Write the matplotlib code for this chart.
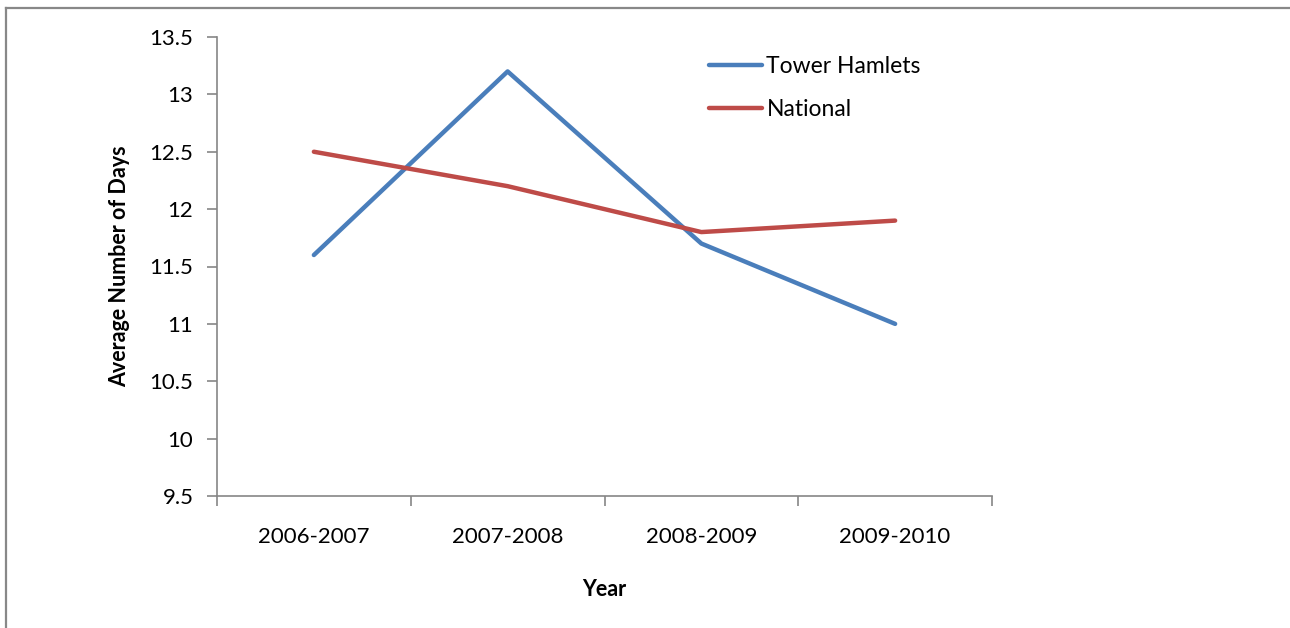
import matplotlib
matplotlib.use('Agg')
import matplotlib.pyplot as plt
from matplotlib.lines import Line2D

years = ['2006-2007', '2007-2008', '2008-2009', '2009-2010']
tower_hamlets = [11.6, 13.2, 11.7, 11.0]
national = [12.5, 12.2, 11.8, 11.9]
y_ticks = [9.5, 10, 10.5, 11, 11.5, 12, 12.5, 13, 13.5]

plt.rcParams['font.family'] = ['Lato', 'DejaVu Sans']

fig = plt.figure(figsize=(12.9, 6.28), dpi=100)
ax = fig.add_axes([217 / 1290, 1 - 496 / 628, (992 - 217) / 1290, (496 - 37) / 628])

x = range(len(years))
ax.plot(x, tower_hamlets, color='#4A7EBB', lw=3.2, label='Tower Hamlets', solid_capstyle='round')
ax.plot(x, national, color='#BE4B48', lw=3.2, label='National', solid_capstyle='round')

ax.set_xlim(-0.5, len(years) - 0.5)
ax.set_ylim(9.5, 13.5)
ax.set_yticks(y_ticks)
ax.set_yticklabels([('%g' % v) for v in y_ticks], fontsize=16)
ax.set_xticks(list(x))
ax.set_xticklabels(years, fontsize=16)
ax.tick_params(axis='x', which='major', length=0, pad=22)
ax.set_xticks([i - 0.5 for i in range(len(years) + 1)], minor=True)
ax.tick_params(axis='x', which='minor', length=7, color='#868686', width=1.2)
ax.tick_params(axis='y', length=7, color='#868686', width=1.2, pad=10)

for side in ['top', 'right']:
    ax.spines[side].set_visible(False)
for side in ['left', 'bottom']:
    ax.spines[side].set_color('#868686')
    ax.spines[side].set_linewidth(1.2)

ax.set_ylabel('Average Number of Days', fontsize=15.5, fontweight='bold', labelpad=14)
ax.set_xlabel('Year', fontsize=15.5, fontweight='bold', labelpad=23)

ax.legend(loc='upper left', bbox_to_anchor=(700 / 1290, 1 - 47 / 628), bbox_transform=fig.transFigure,
          frameon=False, fontsize=16.5, handlelength=2.3, handletextpad=0.2, labelspacing=0.95,
          borderaxespad=0)

# outer chart border (left and top edge visible)
fig.add_artist(Line2D([6 / 1290, 6 / 1290], [0, 1 - 8 / 628], transform=fig.transFigure, color='#888888', lw=1.6))
fig.add_artist(Line2D([6 / 1290, 1], [1 - 8 / 628, 1 - 8 / 628], transform=fig.transFigure, color='#888888', lw=1.6))

fig.savefig('out.png', dpi=100)
